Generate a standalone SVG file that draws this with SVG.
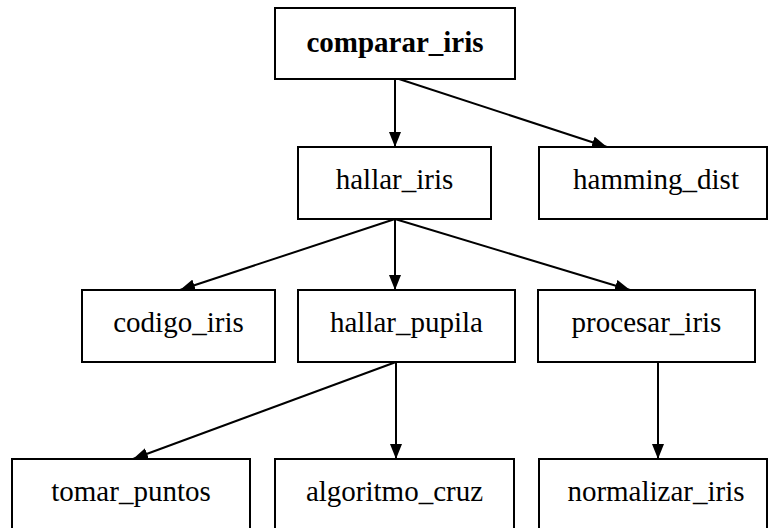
<svg xmlns="http://www.w3.org/2000/svg" width="769" height="528" viewBox="0 0 769 528">
<defs>
<marker id="ah" markerUnits="userSpaceOnUse" markerWidth="15" markerHeight="12" refX="15" refY="6" orient="auto">
<path d="M0,0 L15,6 L0,12 z" fill="#000"/>
</marker>
<style>
.box{fill:#fff;stroke:#000;stroke-width:2}
.lbl{font-size:29px;fill:#000;text-anchor:middle}
.b{font-weight:bold}
.e{stroke:#000;stroke-width:2;fill:none;marker-end:url(#ah)}
</style>
</defs>
<rect width="769" height="528" fill="#fff"/>
<g id="connectors">
<line class="e" x1="395" y1="79" x2="395" y2="147"/>
<line class="e" x1="399" y1="79" x2="607" y2="147"/>
<line class="e" x1="395" y1="219" x2="180" y2="290"/>
<line class="e" x1="395" y1="219" x2="395" y2="290"/>
<line class="e" x1="395" y1="219" x2="630" y2="290"/>
<line class="e" x1="396" y1="362" x2="133" y2="459"/>
<line class="e" x1="396" y1="362" x2="396" y2="459"/>
<line class="e" x1="658" y1="362" x2="658" y2="459"/>
</g>
<g font-family="Liberation Serif, Times New Roman, DejaVu Serif, serif">
<g id="comparar_iris"><rect class="box" x="275" y="8" width="240" height="71"/><text class="lbl b" x="395" y="52">comparar_iris</text></g>
<g id="hallar_iris"><rect class="box" x="298" y="147" width="193" height="72"/><text class="lbl" x="394.5" y="189">hallar_iris</text></g>
<g id="hamming_dist"><rect class="box" x="539" y="147" width="228" height="72"/><text class="lbl" x="656" y="189">hamming_dist</text></g>
<g id="codigo_iris"><rect class="box" x="82" y="290" width="193" height="72"/><text class="lbl" x="178.5" y="332">codigo_iris</text></g>
<g id="hallar_pupila"><rect class="box" x="298" y="290" width="217" height="72"/><text class="lbl" x="406.5" y="332">hallar_pupila</text></g>
<g id="procesar_iris"><rect class="box" x="538" y="290" width="217" height="72"/><text class="lbl" x="646.5" y="332">procesar_iris</text></g>
<g id="tomar_puntos"><rect class="box" x="12" y="459" width="238" height="72"/><text class="lbl" x="131" y="501">tomar_puntos</text></g>
<g id="algoritmo_cruz"><rect class="box" x="275" y="459" width="239" height="72"/><text class="lbl" x="394.5" y="501">algoritmo_cruz</text></g>
<g id="normalizar_iris"><rect class="box" x="539" y="459" width="228" height="72"/><text class="lbl" x="656" y="501">normalizar_iris</text></g>
</g>
</svg>
